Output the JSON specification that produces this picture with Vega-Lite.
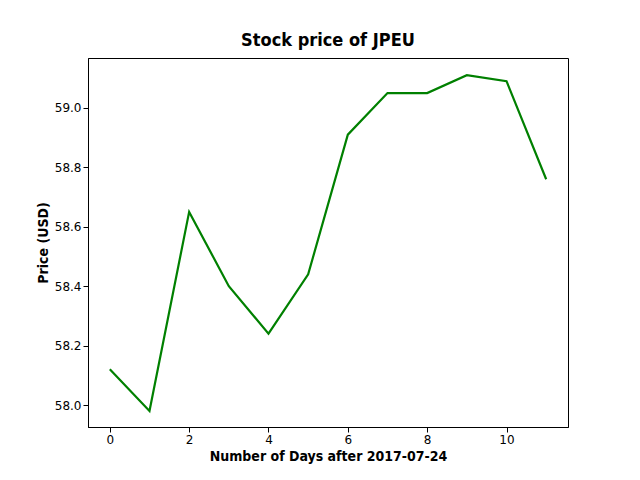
{
"$schema":"https://vega.github.io/schema/vega-lite/v6.json",
"autosize":"none",
"padding":{"left":88,"top":58,"right":72,"bottom":53},
"width":480,"height":369,
"background":"white",
"title":{"text":"Stock price of JPEU","font":"DejaVu Sans Condensed","fontWeight":"bold","fontSize":18,"offset":8,"color":"black"},
"data":{"values":[
{"d":0,"p":58.12},{"d":1,"p":57.98},{"d":2,"p":58.65},{"d":3,"p":58.40},{"d":4,"p":58.24},{"d":5,"p":58.44},{"d":6,"p":58.91},{"d":7,"p":59.05},{"d":8,"p":59.05},{"d":9,"p":59.11},{"d":10,"p":59.09},{"d":11,"p":58.76}]},
"mark":{"type":"line","color":"green","strokeWidth":2.2},
"encoding":{
"x":{"field":"d","type":"quantitative","scale":{"domain":[-0.55,11.55],"nice":false,"zero":false},
"axis":{"values":[0,2,4,6,8,10],"grid":false,"title":"Number of Days after 2017-07-24","titleFont":"DejaVu Sans Condensed","titleFontWeight":"bold","titleFontSize":14,"titleColor":"black","labelFont":"DejaVu Sans","labelFontSize":12,"labelColor":"black","tickColor":"black","domainColor":"black","labelFlush":false}},
"y":{"field":"p","type":"quantitative","scale":{"domain":[57.926,59.168],"nice":false,"zero":false},
"axis":{"values":[58.0,58.2,58.4,58.6,58.8,59.0],"format":".1f","grid":false,"title":"Price (USD)","titleFont":"DejaVu Sans Condensed","titleFontWeight":"bold","titleFontSize":14,"titleColor":"black","labelFont":"DejaVu Sans","labelFontSize":12,"labelColor":"black","tickColor":"black","domainColor":"black","labelFlush":false}}
},
"config":{"view":{"stroke":"black","strokeWidth":1}}
}
